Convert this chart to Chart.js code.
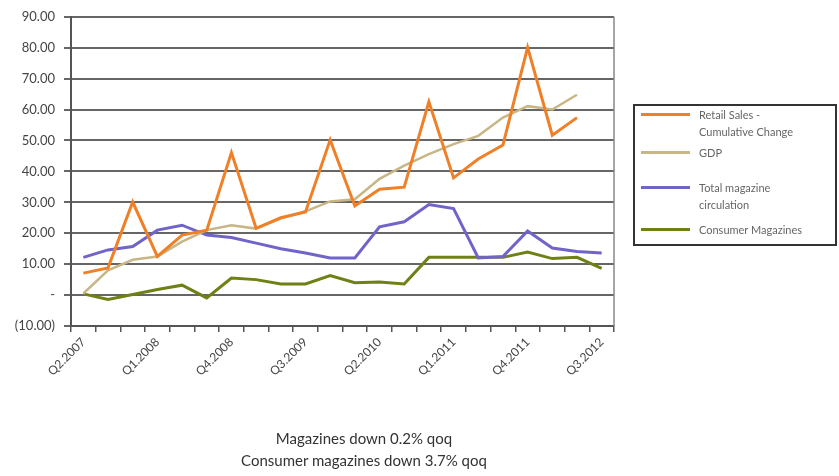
<!DOCTYPE html>
<html>
<head>
<meta charset="utf-8">
<script src="https://cdn.jsdelivr.net/npm/chart.js@4"></script>
<style>
  body { margin: 0; background: #fff; }
  #wrap { position: relative; width: 839px; height: 476px; }
  #legend {
    position: absolute; left: 633px; top: 104px; width: 204px; height: 142px;
    border: 2px solid #333; box-sizing: border-box;
    font-family: Lato, "Open Sans", sans-serif; font-size: 11px; color: #666;
  }
  .item { position: absolute; left: 6px; }
  .swatch { position: absolute; left: 0; top: 7px; width: 49px; height: 3px; }
  .text { position: absolute; left: 58px; width: 135px; line-height: 17px; white-space: pre-line; }
  #note {
    position: absolute; left: 164px; width: 400px; top: 427px; text-align: center;
    font-family: Lato, "Open Sans", sans-serif; font-size: 15px; color: #333; line-height: 22px;
  }
</style>
</head>
<body>
<div id="wrap">
  <canvas id="magChart" width="839" height="476"></canvas>
  <div id="legend"></div>
  <div id="note">Magazines down 0.2% qoq<br>Consumer magazines down 3.7% qoq</div>
</div>
<script>
const quarters = [
  'Q2.2007', 'Q3.2007', 'Q4.2007', 'Q1.2008', 'Q2.2008', 'Q3.2008', 'Q4.2008', 'Q1.2009',
  'Q2.2009', 'Q3.2009', 'Q4.2009', 'Q1.2010', 'Q2.2010', 'Q3.2010', 'Q4.2010', 'Q1.2011',
  'Q2.2011', 'Q3.2011', 'Q4.2011', 'Q1.2012', 'Q2.2012', 'Q3.2012'
];

const retailSales = [7.1, 8.8, 30.1, 12.5, 19.4, 21.0, 46.1, 21.6, 25.0, 26.9, 50.2,
  28.8, 34.2, 34.9, 62.5, 37.9, 44.0, 48.5, 80.1, 51.7, 57.4];
const gdp = [0.5, 8.0, 11.4, 12.5, 17.3, 21.0, 22.6, 21.5, 24.8, 27.1, 30.3,
  31.0, 37.6, 41.9, 45.6, 48.8, 51.5, 57.4, 61.1, 60.0, 64.8];
const totalMagazines = [12.2, 14.6, 15.7, 21.0, 22.6, 19.4, 18.6, 16.8, 15.0, 13.6, 12.0,
  12.0, 22.1, 23.7, 29.3, 28.0, 12.0, 12.5, 20.7, 15.2, 14.1, 13.6];
const consumerMagazines = [0.4, -1.4, 0.2, 1.8, 3.2, -0.9, 5.5, 5.0, 3.6, 3.6, 6.3,
  4.0, 4.2, 3.6, 12.2, 12.2, 12.2, 12.2, 13.9, 11.8, 12.2, 8.6];

const seriesNames = ['Retail Sales - Cumulative Change', 'GDP', 'Total magazine circulation', 'Consumer Magazines'];
const legendNames = ['Retail Sales -\nCumulative Change', 'GDP', 'Total magazine\ncirculation', 'Consumer Magazines'];
const seriesColors = ['rgb(240,128,40)', 'rgb(200,182,135)', 'rgb(112,100,200)', 'rgb(112,128,20)'];
const legendTops = [0, 38, 73, 115];

// right border of the plot
const frameBorder = {
  id: 'frameBorder',
  afterDraw(chart) {
    const { ctx, chartArea } = chart;
    ctx.save();
    ctx.strokeStyle = '#888';
    ctx.lineWidth = 1.5;
    ctx.beginPath();
    ctx.moveTo(chartArea.right, chartArea.top);
    ctx.lineTo(chartArea.right, chartArea.bottom);
    ctx.stroke();
    ctx.restore();
  },
};

const ctx = document.getElementById('magChart');

new Chart(ctx, {
  type: 'line',
  data: {
    labels: quarters,
    datasets: [retailSales, gdp, totalMagazines, consumerMagazines].map((d, i) => ({
      label: seriesNames[i],
      data: d,
      borderColor: seriesColors[i],
      borderWidth: i === 1 ? 2.5 : 3,
      pointRadius: 0,
      tension: 0,
      fill: false,
    })),
  },
  options: {
    responsive: false,
    animation: false,
    layout: { padding: { left: 0, top: 14, right: 225, bottom: 70 } },
    plugins: { legend: { display: false }, tooltip: { enabled: false } },
    scales: {
      x: {
        offset: true,
        grid: { offset: true, drawOnChartArea: false, tickLength: 6, color: '#555', lineWidth: 1.5 },
        border: { color: '#555', width: 2 },
        ticks: {
          autoSkip: false,
          minRotation: 45,
          maxRotation: 45,
          color: '#444',
          font: { family: 'Lato', size: 12 },
          callback: function (value, index) {
            return index % 3 === 0 ? this.getLabelForValue(value) : '';
          },
        },
        afterFit(scale) { scale.height = 80; },
      },
      y: {
        min: -10,
        max: 90,
        grid: { color: '#666', lineWidth: 2, tickLength: 7 },
        border: { color: '#555', width: 2 },
        ticks: {
          stepSize: 10,
          padding: 9,
          color: '#444',
          font: { family: 'Lato', size: 13 },
          callback: (v) => v === 0 ? '-' : (v < 0 ? '(' + Math.abs(v).toFixed(2) + ')' : v.toFixed(2)),
        },
        afterFit(scale) { scale.width = 71; },
      },
    },
  },
  plugins: [frameBorder],
});

const legend = document.getElementById('legend');
legendNames.forEach((name, i) => {
  const item = document.createElement('div');
  item.className = 'item';
  item.style.top = legendTops[i] + 'px';
  const sw = document.createElement('div');
  sw.className = 'swatch';
  sw.style.background = seriesColors[i];
  const tx = document.createElement('div');
  tx.className = 'text';
  tx.textContent = name;
  item.appendChild(sw);
  item.appendChild(tx);
  legend.appendChild(item);
});
</script>
</body>
</html>
